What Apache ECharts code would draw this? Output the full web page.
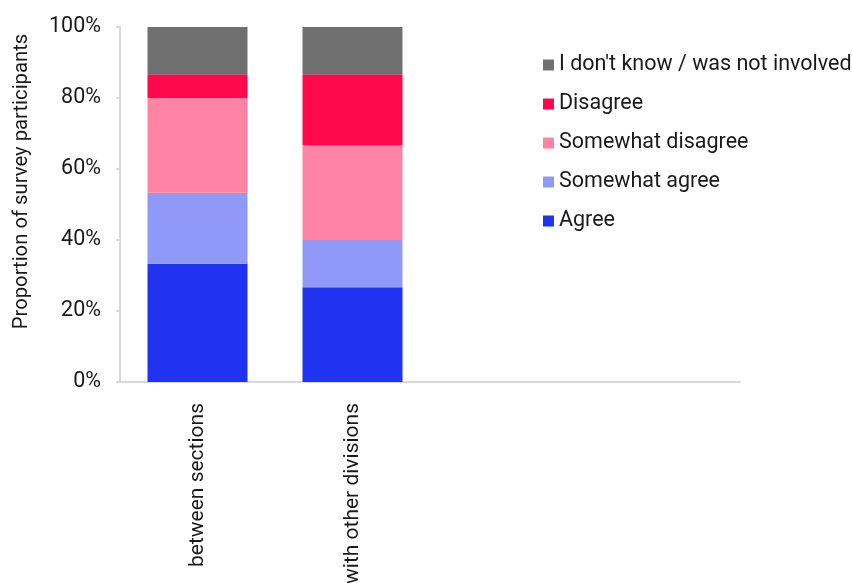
<!DOCTYPE html>
<html>
<head>
<meta charset="utf-8">
<script src="https://cdn.jsdelivr.net/npm/echarts@6/dist/echarts.min.js"></script>
<style>
  html, body { margin: 0; padding: 0; background: #ffffff; }
  #chart { width: 852px; height: 583px; }
</style>
</head>
<body>
<div id="chart"></div>
<script>
// Survey response shares (%) for each collaboration area
const categories = ['between sections', 'with other divisions', '', ''];
const agree = [33.33, 26.67, null, null];
const somewhatAgree = [20.0, 13.33, null, null];
const somewhatDisagree = [26.67, 26.67, null, null];
const disagree = [6.67, 20.0, null, null];
const dontKnow = [13.33, 13.33, null, null];
const yTicks = [0, 20, 40, 60, 80, 100];

const seriesDefs = [
  { name: 'Agree', data: agree, color: '#1f33f0' },
  { name: 'Somewhat agree', data: somewhatAgree, color: '#8f99f7' },
  { name: 'Somewhat disagree', data: somewhatDisagree, color: '#ff83a2' },
  { name: 'Disagree', data: disagree, color: '#ff084c' },
  { name: "I don't know / was not involved", data: dontKnow, color: '#707070' }
];

const font = 'Roboto, "Noto Sans", sans-serif';
const chart = echarts.init(document.getElementById('chart'), null, { renderer: 'canvas' });

chart.setOption({
  animation: false,
  textStyle: { fontFamily: font },
  grid: {
    left: 120, right: 112, top: 27, bottom: 201,
    containLabel: false,
    outerBoundsMode: 'none'
  },
  legend: {
    orient: 'vertical',
    left: 538,
    top: 49,
    itemWidth: 11,
    itemHeight: 11,
    itemGap: 17,
    icon: 'rect',
    data: seriesDefs.map(s => s.name).reverse(),
    textStyle: { fontSize: 21.5, color: '#1a1a1a', fontFamily: font }
  },
  xAxis: {
    type: 'category',
    data: categories,
    axisLine: { lineStyle: { color: '#d9d9d9', width: 2 } },
    axisTick: { show: false },
    axisLabel: {
      rotate: 90,
      interval: 0,
      margin: 21,
      fontSize: 21,
      color: '#1a1a1a',
      fontFamily: font
    }
  },
  yAxis: {
    type: 'value',
    min: 0,
    max: 100,
    interval: 20,
    name: 'Proportion of survey participants',
    nameLocation: 'middle',
    nameGap: 88,
    nameTextStyle: { fontSize: 20.3, color: '#1a1a1a', fontFamily: font, padding: [0, 0, 0, 46] },
    axisLine: { show: true, lineStyle: { color: '#d9d9d9', width: 2 } },
    axisTick: { show: true, length: 4, lineStyle: { color: '#d9d9d9', width: 2 } },
    splitLine: { show: false },
    axisLabel: {
      fontSize: 21.5,
      color: '#1a1a1a',
      margin: 19,
      fontFamily: font,
      formatter: v => (yTicks.includes(v) ? v + '%' : '')
    }
  },
  series: seriesDefs.map(s => ({
    name: s.name,
    type: 'bar',
    stack: 'total',
    barWidth: 100,
    data: s.data,
    itemStyle: { color: s.color }
  }))
});
</script>
</body>
</html>
